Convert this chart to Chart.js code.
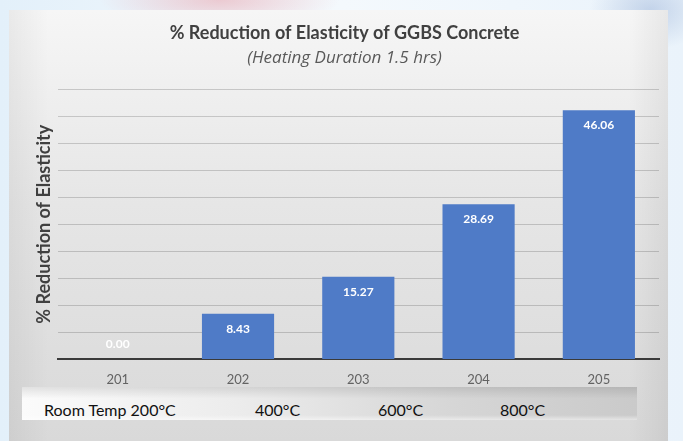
<!DOCTYPE html>
<html>
<head>
<meta charset="utf-8">
<script src="https://cdn.jsdelivr.net/npm/chart.js@4/dist/chart.umd.min.js"></script>
<style>
  html, body { margin: 0; padding: 0; }
  body {
    width: 683px; height: 441px; overflow: hidden; position: relative;
    background:
      radial-gradient(ellipse 120px 30px at 220px 0px, rgba(230,120,130,0.35), transparent),
      radial-gradient(ellipse 60px 40px at 650px 10px, rgba(120,150,200,0.35), transparent),
      linear-gradient(to right, #e3f0fa, #f4f9fd 50%, #eaf3fb);
    font-family: Lato, "Liberation Sans", sans-serif;
  }
  #panel {
    position: absolute; left: 9px; top: 10px; width: 659px; height: 431px;
    background:
      linear-gradient(to right, rgba(0,0,0,0.05), rgba(0,0,0,0) 6%, rgba(0,0,0,0) 94%, rgba(0,0,0,0.06)),
      linear-gradient(to bottom, #f6f6f6, #e6e6e6 45%, #d9d9d9);
  }
  #chart { position: absolute; left: 0; top: 0; }
  #tempBox {
    position: absolute; left: 22px; top: 387px; width: 615px; height: 33px;
    background:
      linear-gradient(to bottom, rgba(0,0,0,0.10), rgba(0,0,0,0) 35%, rgba(255,255,255,0) 85%, rgba(255,255,255,0.5)),
      linear-gradient(to right, #fbfbfb, #ececec 35%, #d6d6d6 70%, #cacaca);
  }
  #tempBox span {
    position: absolute; top: 13px; font-size: 16px; color: #111;
    font-family: Lato, "Liberation Sans", sans-serif; white-space: nowrap; line-height: 19px;
  }
</style>
</head>
<body>
<div id="panel"></div>
<canvas id="chart" width="683" height="441"></canvas>
<div id="tempBox"></div>
<script>
// Specimen ids and % reduction of elasticity
const categories = ['201', '202', '203', '204', '205'];
const reduction = [0.00, 8.43, 15.27, 28.69, 46.06];
const temperatureLabels = ['Room Temp 200\u00B0C', '400\u00B0C', '600\u00B0C', '800\u00B0C'];
const temperatureOffsets = [22, 233, 356, 478];

const box = document.getElementById('tempBox');
temperatureLabels.forEach((t, i) => {
  const s = document.createElement('span');
  s.textContent = t;
  s.style.left = temperatureOffsets[i] + 'px';
  box.appendChild(s);
});

// Value labels drawn inside the top of each bar
const barValueLabels = {
  id: 'barValueLabels',
  afterDatasetsDraw(chart) {
    const ctx = chart.ctx;
    const meta = chart.getDatasetMeta(0);
    ctx.save();
    ctx.font = 'bold 12px Lato, "Liberation Sans", sans-serif';
    ctx.fillStyle = '#ffffff';
    ctx.textAlign = 'center';
    ctx.textBaseline = 'middle';
    meta.data.forEach((bar, i) => {
      const y = Math.min(bar.y + 15, bar.base - 15);
      ctx.fillText(reduction[i].toFixed(2), bar.x, y);
    });
    ctx.restore();
  }
};

new Chart(document.getElementById('chart'), {
  type: 'bar',
  data: {
    labels: categories,
    datasets: [{
      data: reduction,
      backgroundColor: '#4f7bc7',
      borderWidth: 0,
      barPercentage: 0.6,
      categoryPercentage: 1.0
    }]
  },
  options: {
    responsive: false,
    devicePixelRatio: 1,
    animation: false,
    layout: { padding: { left: 30, right: 24, top: 22, bottom: 40 } },
    plugins: {
      legend: { display: false },
      tooltip: { enabled: false },
      title: {
        display: true,
        text: '% Reduction of Elasticity of GGBS Concrete',
        color: '#404040',
        font: { family: 'Lato, "Liberation Sans", sans-serif', size: 18, weight: 'bold' },
        padding: { top: 0, bottom: 4 }
      },
      subtitle: {
        display: true,
        text: '(Heating Duration 1.5 hrs)',
        color: '#595959',
        font: { family: '"Open Sans", Lato, sans-serif', size: 17, style: 'italic' },
        padding: { top: 0, bottom: 21 }
      }
    },
    scales: {
      x: {
        grid: { display: true, color: 'transparent', drawTicks: false },
        border: { display: true, color: '#3a3a3a', width: 2 },
        ticks: {
          color: '#636363',
          padding: 13,
          font: { family: 'Lato, "Liberation Sans", sans-serif', size: 13 }
        }
      },
      y: {
        min: 0,
        max: 50,
        ticks: { display: false, stepSize: 5 },
        grid: { color: 'rgba(0,0,0,0.17)', drawTicks: false },
        border: { display: false },
        title: {
          display: true,
          text: '% Reduction of Elasticity',
          color: '#404040',
          font: { family: 'Lato, "Liberation Sans", sans-serif', size: 18, weight: 'bold' },
          padding: 3
        }
      }
    }
  },
  plugins: [barValueLabels]
});
</script>
</body>
</html>
